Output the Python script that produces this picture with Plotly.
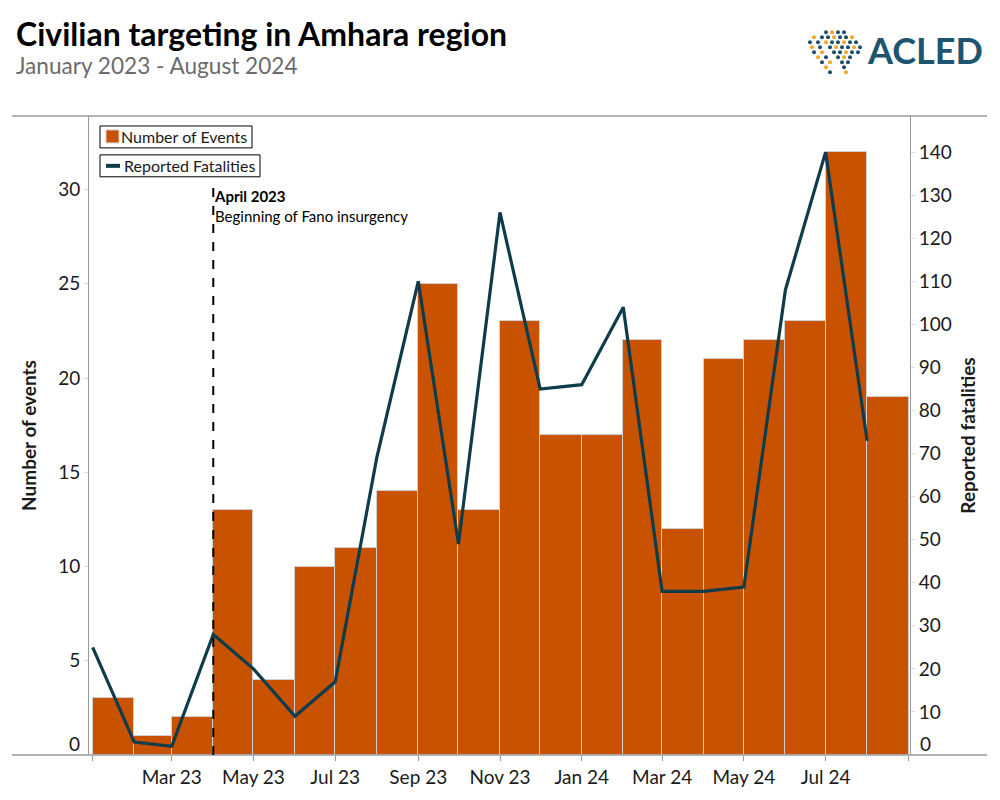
import pandas as pd
import plotly.graph_objects as go

# ---- data ----
months = ["2023-01", "2023-02", "2023-03", "2023-04", "2023-05", "2023-06", "2023-07",
          "2023-08", "2023-09", "2023-10", "2023-11", "2023-12", "2024-01", "2024-02",
          "2024-03", "2024-04", "2024-05", "2024-06", "2024-07", "2024-08"]
events = [3, 1, 2, 13, 4, 10, 11, 14, 25, 13, 23, 17, 17, 22, 12, 21, 22, 23, 32, 19]
fatalities = [25, 3, 2, 28, 20, 9, 17, 69, 110, 49, 126, 85, 86, 104, 38, 38, 39, 108, 140, 73]
tick_months = ["2023-01", "2023-03", "2023-05", "2023-07", "2023-09", "2023-11", "2024-01",
               "2024-03", "2024-05", "2024-07", "2024-09"]
tick_labels = ["", "Mar 23", "May 23", "Jul 23", "Sep 23", "Nov 23", "Jan 24",
               "Mar 24", "May 24", "Jul 24", ""]
left_ticks = [5, 10, 15, 20, 25, 30]
right_ticks = [10, 20, 30, 40, 50, 60, 70, 80, 90, 100, 110, 120, 130, 140]

starts = pd.to_datetime(months)
ends = starts + pd.offsets.MonthBegin(1)
widths = [(e - s).total_seconds() * 1000 for s, e in zip(starts, ends)]

BAR = "#C85200"
LINE = "#0F3C4A"
FONT = "Lato, 'Open Sans', sans-serif"
GRAY = "#9a9a9a"

L, R, T, B = 89, 90, 116, 43
PW, PH = 1000 - L - R, 800 - T - B


def px2paper(px, py):
    return (px - L) / PW, (800 - B - py) / PH


fig = go.Figure()
fig.add_trace(go.Bar(
    x=starts, y=events, width=widths, offset=0,
    marker=dict(color=BAR, line=dict(color="#d0d0d0", width=1)),
    name="Number of Events", yaxis="y", showlegend=False,
))
fig.add_trace(go.Scatter(
    x=starts, y=fatalities, mode="lines",
    line=dict(color=LINE, width=3.2),
    name="Reported Fatalities", yaxis="y2", showlegend=False,
))

fig.update_layout(
    width=1000, height=800,
    margin=dict(l=L, r=R, t=T, b=B),
    paper_bgcolor="white", plot_bgcolor="white",
    font=dict(family=FONT, size=17, color="#1a1a1a"),
    bargap=0,
    showlegend=False,
    xaxis=dict(
        type="date",
        range=["2022-12-29 06:00", "2024-09-02"],
        tickvals=pd.to_datetime(tick_months), ticktext=tick_labels,
        ticks="outside", ticklen=5, tickcolor=GRAY,
        showgrid=False, zeroline=False, showline=False,
        tickfont=dict(size=19),
    ),
    yaxis=dict(
        range=[0, 33.9], tickvals=left_ticks,
        ticks="outside", ticklen=4, tickcolor="#dddddd",
        showgrid=False, zeroline=False,
        showline=True, linecolor=GRAY, linewidth=1,
        tickfont=dict(size=19),
        title=dict(text="<b>Number of events</b>", font=dict(size=19), standoff=16),
    ),
    yaxis2=dict(
        range=[0, 148.4], tickvals=right_ticks, overlaying="y", side="right",
        ticks="outside", ticklen=4, tickcolor="#dddddd",
        showgrid=False, zeroline=False,
        showline=True, linecolor=GRAY, linewidth=1,
        tickfont=dict(size=19),
        title=dict(text="<b>Reported fatalities</b>", font=dict(size=19), standoff=10),
    ),
)

# frame lines (top and bottom rules)
for py in [T, 800 - B]:
    x0, y0 = px2paper(12, py)
    x1, _ = px2paper(987, py)
    fig.add_shape(type="line", xref="paper", yref="paper",
                  x0=x0, x1=x1, y0=y0, y1=y0,
                  line=dict(color=GRAY, width=1.5))

# legend boxes (each entry boxed separately)
legend_items = [
    ("Number of Events", 126, 252, "bar"),
    ("Reported Fatalities", 155, 260, "line"),
]
for text, top, right, kind in legend_items:
    bx0, by1 = px2paper(100, top)
    bx1, by0 = px2paper(right, top + 22)
    fig.add_shape(type="rect", xref="paper", yref="paper",
                  x0=bx0, x1=bx1, y0=by0, y1=by1,
                  fillcolor="white", line=dict(color="black", width=1))
    fig.add_annotation(xref="paper", yref="paper", x=bx1, y=(by0 + by1) / 2,
                       xanchor="right", yanchor="middle", xshift=-3, showarrow=False,
                       text=text, font=dict(size=16, color="#1a1a1a"))
    if kind == "bar":
        sx0, sy0 = px2paper(106, top + 17)
        sx1, sy1 = px2paper(119, top + 4)
        fig.add_shape(type="rect", xref="paper", yref="paper",
                      x0=sx0, x1=sx1, y0=sy0, y1=sy1,
                      fillcolor=BAR, line=dict(color="#d0d0d0", width=1))
    else:
        sx0, sy0 = px2paper(106, top + 11)
        sx1, _ = px2paper(120, top + 11)
        fig.add_shape(type="line", xref="paper", yref="paper",
                      x0=sx0, x1=sx1, y0=sy0, y1=sy0,
                      line=dict(color=LINE, width=4))

# April 2023 marker
_, ytop = px2paper(0, 187)
fig.add_shape(type="line", xref="x", yref="paper",
              x0=starts[3], x1=starts[3], y0=0, y1=ytop,
              line=dict(color="black", width=2, dash="dash"))
fig.add_annotation(x=starts[3], y=ytop, xref="x", yref="paper",
                   xanchor="left", yanchor="top", xshift=-1, yshift=2, showarrow=False,
                   align="left",
                   text="<b>April 2023</b><br>Beginning of Fano insurgency",
                   font=dict(size=15, color="black"))

# zero labels (raised above the baseline)
fig.add_annotation(x=0, y=0, xref="paper", yref="y", xanchor="right", yanchor="middle",
                   xshift=-7, yshift=12, showarrow=False, text="0", font=dict(size=19))
fig.add_annotation(x=1, y=0, xref="paper", yref="y2", xanchor="left", yanchor="middle",
                   xshift=8, yshift=12, showarrow=False, text="0", font=dict(size=19))

# titles
tx, ty = px2paper(14, 33)
fig.add_annotation(xref="paper", yref="paper", x=tx, y=ty,
                   xanchor="left", yanchor="middle", showarrow=False,
                   text="<b>Civilian targeting in Amhara region</b>",
                   font=dict(size=32, color="black"))
sx, sy = px2paper(14, 65)
fig.add_annotation(xref="paper", yref="paper", x=sx, y=sy,
                   xanchor="left", yanchor="middle", showarrow=False,
                   text="January 2023 - August 2024",
                   font=dict(size=22.6, color="#6b6b6b"))

# ACLED logo text
ax, ay = px2paper(985, 50)
fig.add_annotation(xref="paper", yref="paper", x=ax, y=ay,
                   xanchor="right", yanchor="middle", showarrow=False,
                   text="<b>ACLED</b>", font=dict(size=36, color="#1D5470"))

# logo globe dots (decorative)
dot_rows = [
    (32, [826, 832, 838, 844]),
    (37, [814, 822, 828, 834, 840, 846, 852]),
    (42, [810, 818, 826, 832, 838, 844, 850, 856]),
    (47, [812, 820, 830, 836, 842, 848, 854, 860]),
    (52, [814, 822, 834, 840, 846, 852, 858]),
    (57, [818, 826, 838, 844, 850]),
    (62, [822, 830, 842, 848]),
    (67, [826, 844]),
    (72, [830, 846]),
]
dot_i = 0
for py, xs in dot_rows:
    for px in xs:
        cx, cy = px2paper(px, py)
        col = "#F5A623" if dot_i % 3 == 1 else "#1D4E6B"
        dot_i += 1
        r = 2.0
        fig.add_shape(type="circle", xref="paper", yref="paper",
                      x0=cx - r / PW, x1=cx + r / PW, y0=cy - r / PH, y1=cy + r / PH,
                      fillcolor=col, line=dict(width=0))

fig.write_html("out.html")
